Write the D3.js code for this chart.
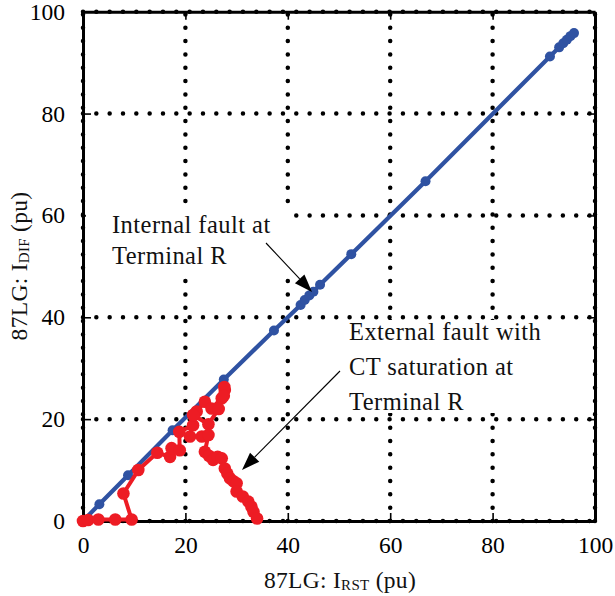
<!DOCTYPE html>
<html>
<head>
<meta charset="utf-8">
<script src="https://cdn.jsdelivr.net/npm/d3@7"></script>
<style>
  html, body { margin: 0; padding: 0; background: #fff; }
  svg { display: block; font-family: "Liberation Serif", "Times New Roman", serif; }
  .grid line { stroke: #000; stroke-width: 4.5; stroke-linecap: round; stroke-dasharray: 0 13.33; }
  .axis path.domain { stroke: #000; stroke-width: 3; }
  .axis .tick line { stroke: #000; stroke-width: 1.6; }
  .axis text { font-family: "Liberation Serif", serif; font-size: 23.5px; fill: #000; }
  .note { font-size: 24.5px; fill: #111; letter-spacing: 0.45px; }
  .title { font-size: 23.5px; fill: #111; letter-spacing: 0.3px; }
</style>
</head>
<body>
<svg id="chart" width="615" height="596"></svg>
<script>
/* ─── Data ───────────────────────────────────────────────────────────────── */

const xTicks = [0, 20, 40, 60, 80, 100];
const yTicks = [0, 20, 40, 60, 80, 100];

// Internal fault at Terminal R (blue)
const internalRst = [0, 3.2, 8.8, 17.5, 27.5, 37.3, 42.5, 43.3, 44.2, 45.0, 46.3, 52.4, 66.9, 91.2, 93.0, 93.8, 94.5, 95.2, 95.9];
const internalDif = [0, 3.3, 9.0, 17.8, 27.8, 37.4, 42.4, 43.4, 44.3, 45.0, 46.4, 52.4, 66.7, 91.2, 93.0, 93.8, 94.5, 95.2, 95.8];

// External fault with CT saturation at Terminal R (red)
const externalRst = [0, 1.0, 3.0, 6.3, 9.5, 7.9, 10.8, 14.5, 17.0, 17.3, 18.9, 18.8, 21.5, 22.2, 23.8, 25.1, 27.1, 27.7,
                     27.6, 27.5, 26.5, 24.5, 21.5, 20.9, 23.2, 24.5, 23.8, 24.6, 25.4, 26.3, 27.1, 27.7, 28.2, 28.7,
                     29.4, 30.0, 30.0, 31.2, 32.3, 32.9, 33.3, 34.0];
const externalDif = [0, 0.2, 0.3, 0.3, 0.3, 5.4, 10.0, 13.4, 12.6, 14.3, 13.9, 17.5, 18.8, 21.5, 23.4, 22.1, 24.1, 25.7,
                     26.3, 24.6, 22.0, 19.0, 20.8, 16.6, 16.6, 16.9, 13.6, 12.8, 12.0, 12.6, 12.3, 10.3, 9.3, 8.4,
                     7.8, 7.4, 5.8, 4.8, 3.8, 2.8, 1.8, 0.5];

/* ─── Layout ─────────────────────────────────────────────────────────────── */

const svg = d3.select('#chart');
const x = d3.scaleLinear().domain([0, 100]).range([83, 595]);
const y = d3.scaleLinear().domain([0, 100]).range([521, 11.7]);

/* ─── Grid (dotted) ──────────────────────────────────────────────────────── */

const grid = svg.append('g').attr('class', 'grid');
grid.selectAll('line.v').data(xTicks).join('line').attr('class', 'v')
  .attr('x1', d => x(d)).attr('x2', d => x(d))
  .attr('y1', y(0)).attr('y2', y(100));
grid.selectAll('line.h').data(yTicks).join('line').attr('class', 'h')
  .attr('x1', x(0)).attr('x2', x(100))
  .attr('y1', d => y(d)).attr('y2', d => y(d));

/* ─── Axes (box, inward ticks) ───────────────────────────────────────────── */

svg.append('g').attr('class', 'axis').attr('transform', `translate(0,${y(0)})`)
  .call(d3.axisBottom(x).tickValues(xTicks).tickSizeInner(-8).tickSizeOuter(0).tickPadding(15));
svg.append('g').attr('class', 'axis').attr('transform', `translate(${x(0)},0)`)
  .call(d3.axisLeft(y).tickValues(yTicks).tickSizeInner(-8).tickSizeOuter(0).tickPadding(18));
svg.append('g').attr('class', 'axis').attr('transform', `translate(0,${y(100)})`)
  .call(d3.axisTop(x).tickValues(xTicks).tickSizeInner(-8).tickSizeOuter(0).tickFormat(''));
svg.append('g').attr('class', 'axis').attr('transform', `translate(${x(100)},0)`)
  .call(d3.axisRight(y).tickValues(yTicks).tickSizeInner(-8).tickSizeOuter(0).tickFormat(''));

/* ─── Annotation backgrounds (hide grid under text) ──────────────────────── */

svg.append('rect').attr('x', 86).attr('y', 204).attr('width', 208).attr('height', 72).attr('fill', '#fff');
svg.append('rect').attr('x', 344).attr('y', 320).attr('width', 205).attr('height', 93).attr('fill', '#fff');

/* ─── Series ─────────────────────────────────────────────────────────────── */

const blue = d3.range(internalRst.length).map(i => [internalRst[i], internalDif[i]]);
const red  = d3.range(externalRst.length).map(i => [externalRst[i], externalDif[i]]);
const line = d3.line().x(d => x(d[0])).y(d => y(d[1]));

svg.append('path').datum(blue).attr('d', line)
  .attr('fill', 'none').attr('stroke', '#2f52a2').attr('stroke-width', 4.2);
svg.append('g').selectAll('circle').data(blue).join('circle')
  .attr('cx', d => x(d[0])).attr('cy', d => y(d[1])).attr('r', 5).attr('fill', '#2f52a2');

svg.append('path').datum(red).attr('d', line)
  .attr('fill', 'none').attr('stroke', '#ed1c24').attr('stroke-width', 4).attr('stroke-linejoin', 'round');
svg.append('g').selectAll('circle').data(red).join('circle')
  .attr('cx', d => x(d[0])).attr('cy', d => y(d[1])).attr('r', 6.3).attr('fill', '#ed1c24');

/* ─── Annotations ────────────────────────────────────────────────────────── */

function noteLines(x0, y0, lines, gap) {
  const t = svg.append('text').attr('class', 'note').attr('x', x0).attr('y', y0);
  lines.forEach((s, i) => t.append('tspan').attr('x', x0).attr('dy', i ? gap : 0).text(s));
}
noteLines(112, 233, ['Internal fault at', 'Terminal R'], 30.5);
noteLines(349, 340, ['External fault with', 'CT saturation at', 'Terminal R'], 35);

function arrow(x1, y1, x2, y2) {
  const a = Math.atan2(y2 - y1, x2 - x1), L = 18, W = 6.5;
  const bx = x2 - L * Math.cos(a), by = y2 - L * Math.sin(a);
  svg.append('line').attr('x1', x1).attr('y1', y1).attr('x2', bx).attr('y2', by)
    .attr('stroke', '#000').attr('stroke-width', 1.1);
  svg.append('path').attr('fill', '#000').attr('d',
    `M${x2},${y2}L${bx - W * Math.sin(a)},${by + W * Math.cos(a)}L${bx + W * Math.sin(a)},${by - W * Math.cos(a)}Z`);
}
arrow(266, 243, 312, 292);
arrow(340, 371, 242, 470);

/* ─── Axis titles ────────────────────────────────────────────────────────── */

const xt = svg.append('text').attr('class', 'title').attr('text-anchor', 'middle')
  .attr('x', 340).attr('y', 588);
xt.append('tspan').text('87LG: I');
xt.append('tspan').attr('font-size', 15).attr('dy', 2).text('RST');
xt.append('tspan').attr('dy', -2).text(' (pu)');

const yt = svg.append('text').attr('class', 'title').attr('text-anchor', 'middle')
  .attr('transform', 'translate(27,266) rotate(-90)');
yt.append('tspan').text('87LG: I');
yt.append('tspan').attr('font-size', 15).attr('dy', 2).text('DIF');
yt.append('tspan').attr('dy', -2).text(' (pu)');
</script>
</body>
</html>
